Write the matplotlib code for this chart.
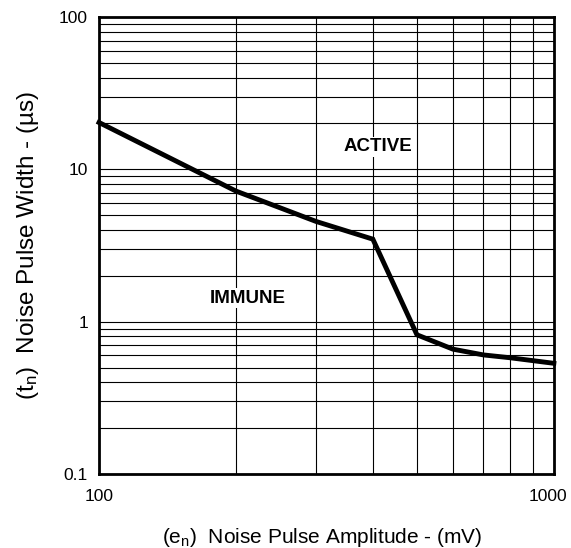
import matplotlib
matplotlib.use("Agg")
import matplotlib.pyplot as plt
import matplotlib.transforms as mtransforms
from matplotlib.ticker import LogLocator, NullFormatter, FixedLocator, FixedFormatter

plt.rcParams['font.family'] = ['Liberation Sans', 'DejaVu Sans']
plt.rcParams['mathtext.default'] = 'regular'

# curve (mV, us)
amplitude_mv = [100, 200, 300, 400, 500, 600, 700, 800, 1000]
pulse_width_us = [20.3, 7.2, 4.55, 3.48, 0.82, 0.66, 0.605, 0.58, 0.533]

x_ticks = [100, 1000]
x_tick_labels = ['100', '1000']
y_ticks = [0.1, 1, 10, 100]
y_tick_labels = ['0.1', '1', '10', '100']

fig = plt.figure(figsize=(5.71, 5.48), dpi=100)
ax = fig.add_axes([0.1734, 0.135, 0.7966, 0.834])

ax.set_xscale('log')
ax.set_yscale('log')
ax.set_xlim(100, 1000)
ax.set_ylim(0.1, 100)

# grid on every 1..9 of each decade
ax.xaxis.set_minor_locator(LogLocator(base=10, subs=range(2, 10)))
ax.yaxis.set_minor_locator(LogLocator(base=10, subs=range(2, 10)))
ax.xaxis.set_minor_formatter(NullFormatter())
ax.yaxis.set_minor_formatter(NullFormatter())
ax.xaxis.set_major_locator(FixedLocator(x_ticks))
ax.xaxis.set_major_formatter(FixedFormatter(x_tick_labels))
ax.yaxis.set_major_locator(FixedLocator(y_ticks))
ax.yaxis.set_major_formatter(FixedFormatter(y_tick_labels))
ax.grid(True, which='both', color='black', linewidth=0.8)
ax.tick_params(which='both', length=0)
ax.tick_params(axis='x', pad=11, labelsize=12.5)
ax.tick_params(axis='y', pad=8, labelsize=12.5)

for sp in ax.spines.values():
    sp.set_linewidth(2.0)
    sp.set_zorder(5)

ax.plot(amplitude_mv, pulse_width_us, color='black', linewidth=3.5,
        solid_joinstyle='miter', clip_on=False, zorder=4)

box = dict(facecolor='white', edgecolor='none', pad=1)
ax.text(0.614, 0.716, 'ACTIVE', transform=ax.transAxes, ha='center', va='center',
        fontsize=13.5, fontweight='bold', bbox=box, zorder=3)
ax.text(0.326, 0.385, 'IMMUNE', transform=ax.transAxes, ha='center', va='center',
        fontsize=13.5, fontweight='bold', bbox=box, zorder=3)

ax.set_xlabel('(e$_n$)  Noise Pulse Amplitude - (mV)', fontsize=15)
ax.set_ylabel('(t$_n$)  Noise Pulse Width - (\u00b5s)', fontsize=17.5)
ax.xaxis.set_label_coords(0.49, -0.113)
ax.yaxis.set_label_coords(-0.128, 0.5)

# nudge the last x tick label so it stays inside the figure
fig.canvas.draw()
last = ax.get_xticklabels()[-1]
last.set_transform(last.get_transform() +
                   mtransforms.ScaledTranslation(-6 / 100, 0, fig.dpi_scale_trans))

fig.savefig('out.png', dpi=100)
